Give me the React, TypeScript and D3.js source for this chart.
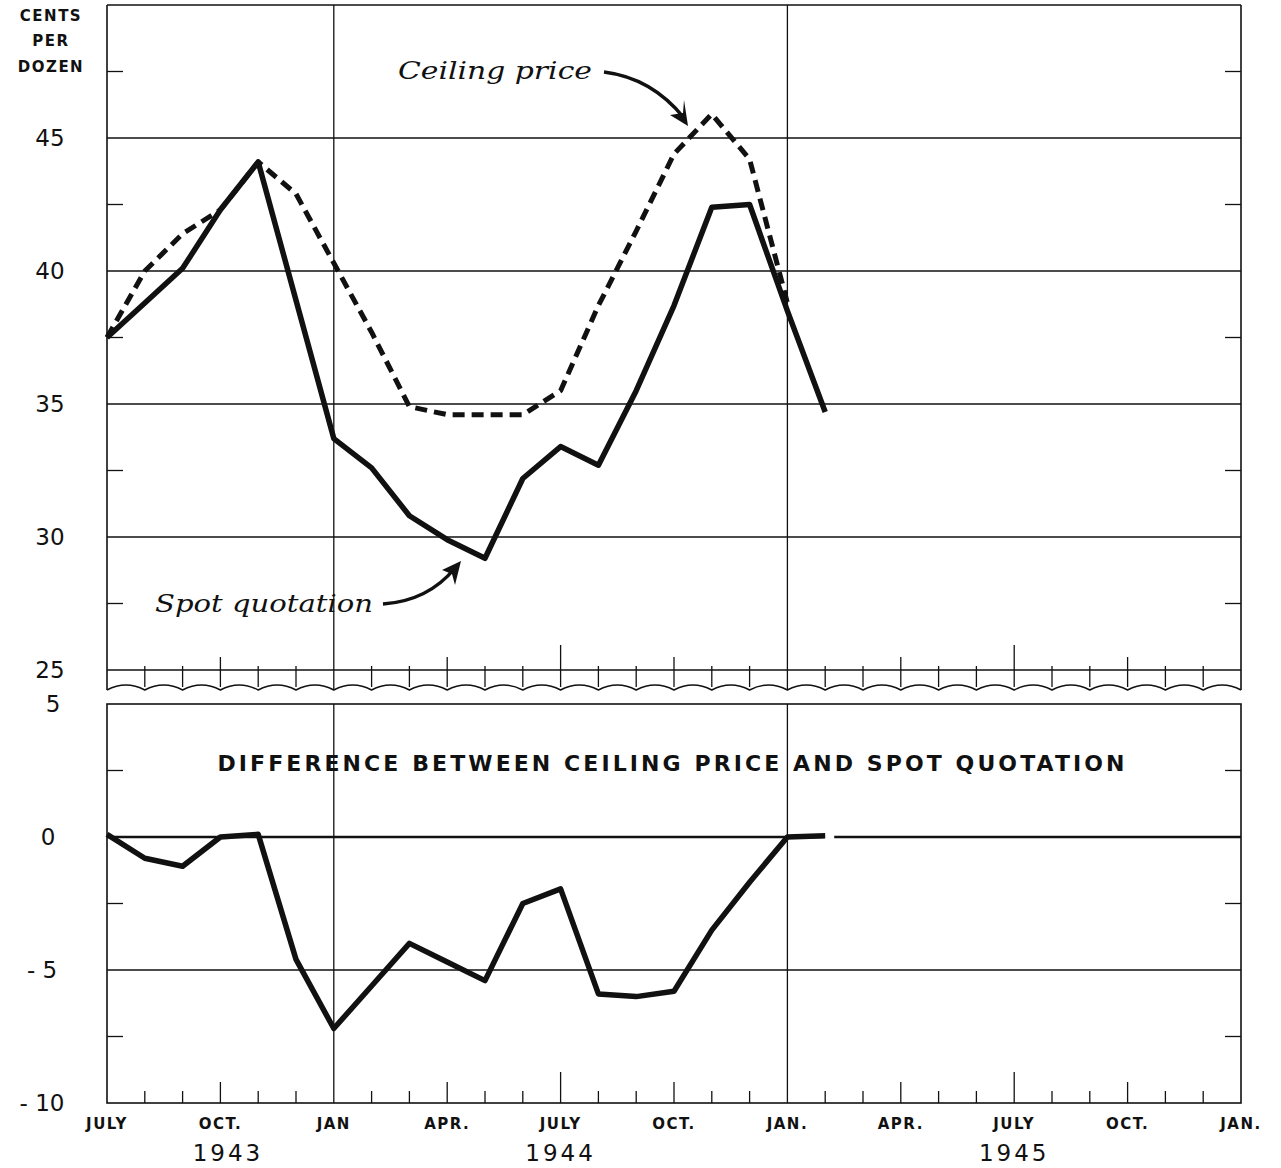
import React from "react";
import * as d3 from "d3";

// Months indexed from July 1943 (0) to January 1946 (30)
const monthTickLabels = [
  "JULY", "", "", "OCT.", "", "", "JAN", "", "", "APR.", "", "", "JULY", "", "", "OCT.", "", "",
  "JAN.", "", "", "APR.", "", "", "JULY", "", "", "OCT.", "", "", "JAN.",
];
const yearLabels = ["1943", "1944", "1945"];
const yearMonthIndex = [3.2, 12, 24];

// Spot quotation, cents per dozen, Jul 1943 - Feb 1945
const spotQuotation = [
  37.5, 38.8, 40.1, 42.3, 44.1, 38.9, 33.7, 32.6, 30.8, 29.9, 29.2, 32.2, 33.4, 32.7, 35.5, 38.7,
  42.4, 42.5, 38.5, 34.7,
];
// Ceiling price, cents per dozen, Jul 1943 - Jan 1945
const ceilingPrice = [
  37.5, 40.0, 41.4, 42.3, 44.1, 42.9, 40.3, 37.7, 34.9, 34.6, 34.6, 34.6, 35.5, 38.7, 41.5, 44.4,
  45.9, 44.2, 38.8,
];
// Difference between ceiling price and spot quotation, Jul 1943 - Feb 1945
const difference = [
  0.1, -0.8, -1.1, 0.0, 0.1, -4.6, -7.2, -5.6, -4.0, -4.7, -5.4, -2.5, -1.95, -5.9, -6.0, -5.8,
  -3.5, -1.7, 0.0, 0.05,
];

const topTickValues = [25, 30, 35, 40, 45];
const topMinorValues = [27.5, 32.5, 37.5, 42.5, 47.5];
const bottomTickValues = [5, 0, -5, -10];
const bottomTickLabels = ["5", "0", "- 5", "- 10"];
const bottomMinorValues = [2.5, -2.5, -7.5];

const W = 1281;
const H = 1168;
const LEFT = 107;
const RIGHT = 1241;

const x = d3.scaleLinear().domain([0, 30]).range([LEFT, RIGHT]);
const yTop = d3.scaleLinear().domain([25, 50]).range([670, 5]);
const yBot = d3.scaleLinear().domain([-10, 5]).range([1103, 704]);
const WAVE_Y = 690;

const sans = "'DejaVu Sans', sans-serif";
const serif = "'DejaVu Serif', serif";
const ink = "#111";

export default function App() {
  const months = d3.range(0, 31);
  const lineTop = d3
    .line<number>()
    .x((_, i) => x(i))
    .y((d) => yTop(d));
  const lineBot = d3
    .line<number>()
    .x((_, i) => x(i))
    .y((d) => yBot(d));

  // scalloped break line
  let wave = `M${x(0)},${WAVE_Y}`;
  for (let i = 0; i < 30; i++) {
    const x0 = x(i);
    const x1 = x(i + 1);
    wave += ` Q${(x0 + x1) / 2},${WAVE_Y - 10} ${x1},${WAVE_Y}`;
  }

  const isJan = (i: number) => i % 12 === 6;
  const isJuly = (i: number) => i % 12 === 0;
  const isQuarter = (i: number) => i % 3 === 0;

  const gridW = 1.3;

  return (
    <svg
      width={W}
      height={H}
      viewBox={`0 0 ${W} ${H}`}
      style={{ position: "absolute", left: 0, top: 0, background: "#fff" }}
    >
      <rect x={0} y={0} width={W} height={H} fill="#fff" />

      {/* ===== TOP PANEL ===== */}
      {topTickValues.map((v) => (
        <line key={"tg" + v} x1={LEFT} x2={RIGHT} y1={yTop(v)} y2={yTop(v)} stroke={ink} strokeWidth={gridW} />
      ))}
      <line x1={LEFT} x2={RIGHT} y1={yTop(50)} y2={yTop(50)} stroke={ink} strokeWidth={1.6} />
      <line x1={LEFT} x2={LEFT} y1={yTop(50)} y2={WAVE_Y} stroke={ink} strokeWidth={1.6} />
      <line x1={RIGHT} x2={RIGHT} y1={yTop(50)} y2={WAVE_Y} stroke={ink} strokeWidth={1.6} />
      {topMinorValues.map((v) => (
        <g key={"tm" + v}>
          <line x1={LEFT} x2={LEFT + 16} y1={yTop(v)} y2={yTop(v)} stroke={ink} strokeWidth={gridW} />
          <line x1={RIGHT - 16} x2={RIGHT} y1={yTop(v)} y2={yTop(v)} stroke={ink} strokeWidth={gridW} />
        </g>
      ))}
      {months.map((i) => {
        if (i === 0 || i === 30) return null;
        if (isJan(i))
          return <line key={"tv" + i} x1={x(i)} x2={x(i)} y1={yTop(50)} y2={WAVE_Y} stroke={ink} strokeWidth={gridW} />;
        const top = isJuly(i) ? 645 : isQuarter(i) ? 657 : 666;
        return <line key={"tv" + i} x1={x(i)} x2={x(i)} y1={top} y2={WAVE_Y - 3} stroke={ink} strokeWidth={gridW} />;
      })}
      <path d={wave} fill="none" stroke={ink} strokeWidth={1.5} />

      {topTickValues.map((v) => (
        <text key={"tl" + v} x={50} y={yTop(v)} dy="0.36em" textAnchor="middle" fontFamily={sans} fontSize={23} fill={ink}>
          {v}
        </text>
      ))}
      <text x={51} y={21} textAnchor="middle" fontFamily={sans} fontWeight="bold" fontSize={15} letterSpacing={1.5} fill={ink}>CENTS</text>
      <text x={51} y={46} textAnchor="middle" fontFamily={sans} fontWeight="bold" fontSize={15} letterSpacing={1.5} fill={ink}>PER</text>
      <text x={51} y={72} textAnchor="middle" fontFamily={sans} fontWeight="bold" fontSize={15} letterSpacing={1.5} fill={ink}>DOZEN</text>

      {/* data lines */}
      <path
        d={lineTop(ceilingPrice) || ""}
        fill="none"
        stroke={ink}
        strokeWidth={5}
        strokeDasharray="12 7"
        strokeLinejoin="round"
      />
      <path d={lineTop(spotQuotation) || ""} fill="none" stroke={ink} strokeWidth={5.5} strokeLinejoin="round" />

      {/* annotations */}
      <text x={398} y={79} fontFamily={serif} fontStyle="italic" fontSize={25} textLength={194} lengthAdjust="spacingAndGlyphs" fill={ink}>
        Ceiling price
      </text>
      <path d="M604,72 Q652,78 684,118" fill="none" stroke={ink} strokeWidth={3.5} />
      <path d="M688,126 L670,115 L683,113 L684,100 Z" fill={ink} />
      <text x={155} y={612} fontFamily={serif} fontStyle="italic" fontSize={25} textLength={218} lengthAdjust="spacingAndGlyphs" fill={ink}>
        Spot quotation
      </text>
      <path d="M383,604 Q428,601 455,568" fill="none" stroke={ink} strokeWidth={3.5} />
      <path d="M461,561 L442,570 L452,574 L455,585 Z" fill={ink} />

      {/* ===== BOTTOM PANEL ===== */}
      <rect x={LEFT} y={yBot(5)} width={RIGHT - LEFT} height={yBot(-10) - yBot(5)} fill="none" stroke={ink} strokeWidth={1.6} />
      <line x1={LEFT} x2={RIGHT} y1={yBot(-5)} y2={yBot(-5)} stroke={ink} strokeWidth={gridW} />
      <line x1={LEFT} x2={x(19) - 2} y1={yBot(0)} y2={yBot(0)} stroke={ink} strokeWidth={2.6} />
      <line x1={x(19) + 9} x2={RIGHT} y1={yBot(0)} y2={yBot(0)} stroke={ink} strokeWidth={2.6} />
      {bottomMinorValues.map((v) => (
        <g key={"bm" + v}>
          <line x1={LEFT} x2={LEFT + 16} y1={yBot(v)} y2={yBot(v)} stroke={ink} strokeWidth={gridW} />
          <line x1={RIGHT - 16} x2={RIGHT} y1={yBot(v)} y2={yBot(v)} stroke={ink} strokeWidth={gridW} />
        </g>
      ))}
      {months.map((i) => {
        if (i === 0 || i === 30) return null;
        if (isJan(i))
          return <line key={"bv" + i} x1={x(i)} x2={x(i)} y1={yBot(5)} y2={yBot(-10)} stroke={ink} strokeWidth={gridW} />;
        const len = isJuly(i) ? 31 : isQuarter(i) ? 21 : 12;
        return <line key={"bv" + i} x1={x(i)} x2={x(i)} y1={yBot(-10) - len} y2={yBot(-10)} stroke={ink} strokeWidth={gridW} />;
      })}
      {bottomTickValues.map((v, k) => (
        <text key={"bl" + v} x={k === 0 ? 53 : k === 1 ? 48 : 42} y={yBot(v)} dy="0.36em" textAnchor="middle" fontFamily={sans} fontSize={23} fill={ink}>
          {bottomTickLabels[k]}
        </text>
      ))}
      <text
        x={671}
        y={771}
        textAnchor="middle"
        fontFamily={sans}
        fontWeight="bold"
        fontSize={22}
        textLength={907}
        lengthAdjust="spacing"
        fill={ink}
      >
        DIFFERENCE BETWEEN CEILING PRICE AND SPOT QUOTATION
      </text>
      <path d={lineBot(difference) || ""} fill="none" stroke={ink} strokeWidth={5.5} strokeLinejoin="round" />

      {/* x axis labels */}
      {monthTickLabels.map((lab, i) =>
        lab ? (
          <text key={"ml" + i} x={x(i)} y={1129} textAnchor="middle" fontFamily={sans} fontWeight="bold" fontSize={15} letterSpacing={1.5} fill={ink}>
            {lab}
          </text>
        ) : null
      )}
      {yearLabels.map((yr, k) => (
        <text key={"yr" + yr} x={x(yearMonthIndex[k])} y={1161} textAnchor="middle" fontFamily={sans} fontSize={23} letterSpacing={3} fill={ink}>
          {yr}
        </text>
      ))}
    </svg>
  );
}
